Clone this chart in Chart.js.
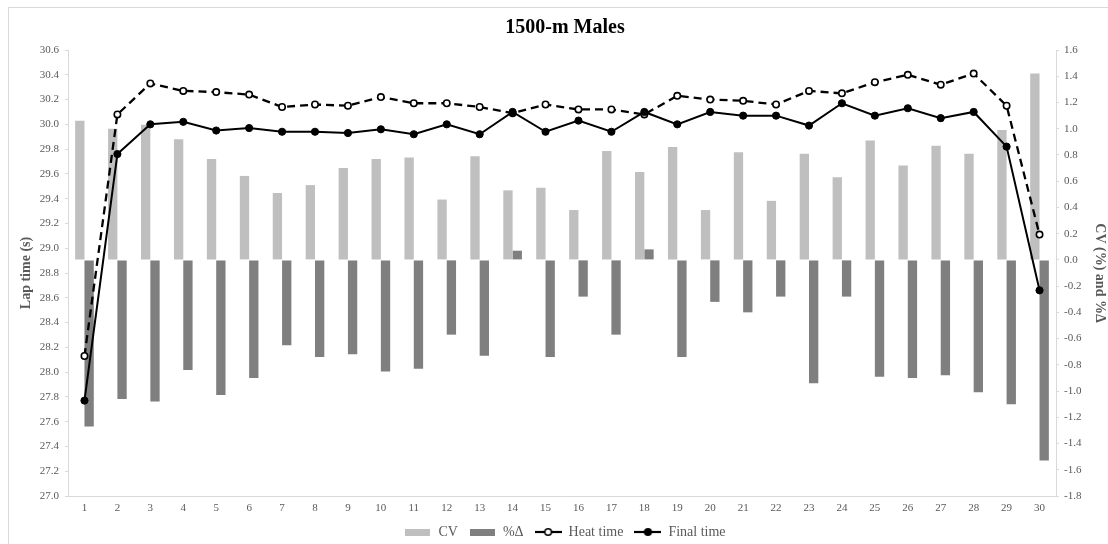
<!DOCTYPE html>
<html>
<head>
<meta charset="utf-8">
<title>1500-m Males</title>
<script src="https://cdn.jsdelivr.net/npm/chart.js@4.4.1/dist/chart.umd.min.js"></script>
<style>
html,body{margin:0;padding:0;background:#fff;overflow:hidden}
#wrap{position:absolute;left:0;top:0;width:1108px;height:549px}
#frame{position:absolute;left:8px;top:7px;width:1120px;height:560px;border:1px solid #d9d9d9;pointer-events:none}
</style>
</head>
<body>
<div id="wrap"><canvas id="lapChart"></canvas></div>
<div id="frame"></div>
<script>

/* DATA */

const laps=["1","2","3","4","5","6","7","8","9","10","11","12","13","14","15","16","17","18","19","20","21","22","23","24","25","26","27","28","29","30"]

const cv=[1.06,1.00,1.03,0.92,0.77,0.64,0.51,0.57,0.70,0.77,0.78,0.46,0.79,0.53,0.55,0.38,0.83,0.67,0.86,0.38,0.82,0.45,0.81,0.63,0.91,0.72,0.87,0.81,0.99,1.42]

const pctDelta=[-1.27,-1.06,-1.08,-0.84,-1.03,-0.90,-0.65,-0.74,-0.72,-0.85,-0.83,-0.57,-0.73,0.07,-0.74,-0.28,-0.57,0.08,-0.74,-0.32,-0.40,-0.28,-0.94,-0.28,-0.89,-0.90,-0.88,-1.01,-1.10,-1.53]

const heatTime=[28.13,30.08,30.33,30.27,30.26,30.24,30.14,30.16,30.15,30.22,30.17,30.17,30.14,30.09,30.16,30.12,30.12,30.08,30.23,30.20,30.19,30.16,30.27,30.25,30.34,30.40,30.32,30.41,30.15,29.11]

const finalTime=[27.77,29.76,30.00,30.02,29.95,29.97,29.94,29.94,29.93,29.96,29.92,30.00,29.92,30.10,29.94,30.03,29.94,30.10,30.00,30.10,30.07,30.07,29.99,30.17,30.07,30.13,30.05,30.10,29.82,28.66]


const SERIF="'Liberation Serif','Times New Roman',serif"
const GREY="#595959"
const AXIS="#d9d9d9"


/* LEGEND ICONS */

function barIcon(color){
const c=document.createElement("canvas")
c.width=25
c.height=7
const g=c.getContext("2d")
g.fillStyle=color
g.fillRect(0,0,25,7)
return c
}

function lineIcon(filled){
const c=document.createElement("canvas")
c.width=27
c.height=10
const g=c.getContext("2d")
g.strokeStyle="#000"
g.lineWidth=2.2
g.beginPath()
g.moveTo(0,5)
g.lineTo(27,5)
g.stroke()
g.beginPath()
g.arc(13.5,5,3.3,0,Math.PI*2)
g.fillStyle=filled?"#000":"#fff"
g.fill()
g.lineWidth=1.6
g.stroke()
return c
}

const icons=[barIcon("#bfbfbf"),barIcon("#7f7f7f"),lineIcon(false),lineIcon(true)]


/* CHART */

const ctx=document.getElementById("lapChart").getContext("2d")

new Chart(ctx,{

type:"bar",

data:{
labels:laps,

datasets:[
{
label:"CV",
data:cv,
backgroundColor:"#bfbfbf",
yAxisID:"y1",
order:2
},
{
label:"%Δ",
data:pctDelta,
backgroundColor:"#7f7f7f",
yAxisID:"y1",
order:2
},
{
type:"line",
label:"Heat time",
data:heatTime,
yAxisID:"y",
borderColor:"#000",
borderWidth:2.3,
borderDash:[8,5],
pointRadius:3.2,
pointBorderWidth:1.6,
pointBackgroundColor:"#fff",
pointBorderColor:"#000",
tension:0,
order:1
},
{
type:"line",
label:"Final time",
data:finalTime,
yAxisID:"y",
borderColor:"#000",
borderWidth:2,
pointRadius:3.6,
pointBorderWidth:1,
pointBackgroundColor:"#000",
pointBorderColor:"#000",
tension:0,
order:0
}
]
},

options:{
responsive:true,
maintainAspectRatio:false,
animation:false,

layout:{padding:{left:22,right:0,top:0,bottom:0}},

datasets:{
bar:{categoryPercentage:0.566,barPercentage:1}
},

plugins:{

title:{
display:true,
text:"1500-m Males",
color:"#000",
font:{family:SERIF,size:20,weight:"bold"},
padding:{top:16,bottom:10}
},

legend:{
position:"bottom",
labels:{
usePointStyle:true,
pointStyleWidth:27,
padding:11,
color:GREY,
font:{family:SERIF,size:14},
generateLabels:(chart)=>chart.data.datasets.map((ds,i)=>({
text:ds.label,
pointStyle:icons[i],
datasetIndex:i,
hidden:false,
fontColor:GREY,
lineWidth:0,
strokeStyle:"rgba(0,0,0,0)",
fillStyle:"rgba(0,0,0,0)"
}))
}
},

tooltip:{enabled:false}
},

scales:{

x:{
grid:{display:true,drawOnChartArea:false,drawTicks:false,tickLength:0,color:AXIS},
border:{display:true,color:AXIS},
ticks:{
color:GREY,
padding:6,
maxRotation:0,
autoSkip:false,
font:{family:SERIF,size:11}
},
afterFit:(scale)=>{scale.height=18}
},

y:{
position:"left",
min:27.0,
max:30.6,
grid:{drawOnChartArea:false,drawTicks:true,tickLength:3,color:AXIS},
border:{display:true,color:AXIS},
ticks:{
stepSize:0.2,
color:GREY,
padding:6,
font:{family:SERIF,size:11},
callback:(v)=>Number(v).toFixed(1)
},
title:{
display:true,
text:"Lap time (s)",
color:GREY,
font:{family:SERIF,size:14,weight:"bold"},
padding:{top:-4,bottom:0}
},
afterFit:(scale)=>{scale.width=46}
},

y1:{
position:"right",
min:-1.8,
max:1.6,
grid:{drawOnChartArea:false,drawTicks:true,tickLength:3,color:AXIS},
border:{display:true,color:AXIS},
ticks:{
stepSize:0.2,
color:GREY,
padding:5,
font:{family:SERIF,size:11},
callback:(v)=>Number(v).toFixed(1)
},
title:{
display:true,
text:"CV (%) and %Δ",
color:GREY,
font:{family:SERIF,size:14,weight:"bold"},
padding:{top:0,bottom:0}
},
afterFit:(scale)=>{scale.width=52}
}

}
}

})

</script>
</body>
</html>
